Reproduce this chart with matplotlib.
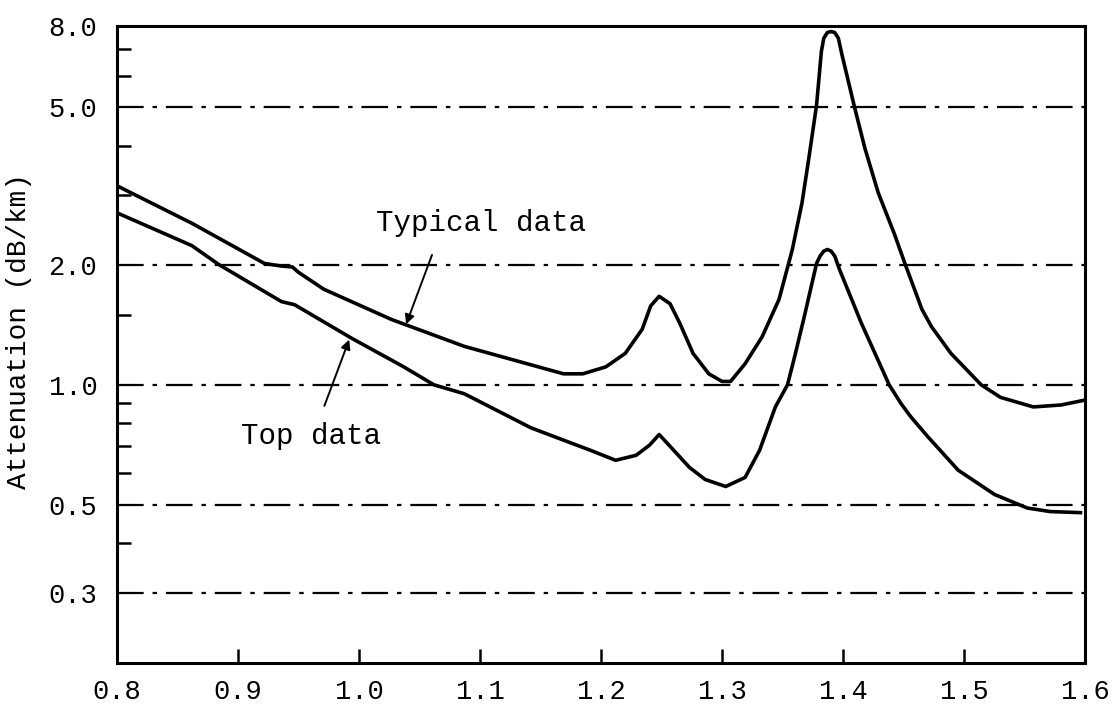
import matplotlib.pyplot as plt
from matplotlib.ticker import FixedLocator, FixedFormatter, NullFormatter

plt.rcParams['font.family'] = ['Liberation Mono', 'DejaVu Sans Mono']

# wavelength (um) and attenuation (dB/km)
typ_x = [0.800, 0.862, 0.922, 0.936, 0.945, 0.950, 0.971, 1.027, 1.087, 1.169,
         1.185, 1.204, 1.220, 1.234, 1.241, 1.248, 1.257, 1.265, 1.276, 1.289,
         1.300, 1.307, 1.319, 1.333, 1.347, 1.358, 1.366, 1.372, 1.378, 1.382,
         1.384, 1.387, 1.390, 1.393, 1.396, 1.399, 1.409, 1.418, 1.429, 1.442,
         1.451, 1.465, 1.473, 1.489, 1.514, 1.530, 1.557, 1.580, 1.600]
typ_y = [3.17, 2.55, 2.02, 1.99, 1.98, 1.92, 1.74, 1.46, 1.25, 1.066,
         1.066, 1.11, 1.20, 1.38, 1.58, 1.67, 1.60, 1.43, 1.20, 1.066,
         1.02, 1.02, 1.13, 1.32, 1.64, 2.19, 2.87, 3.78, 5.05, 6.9,
         7.45, 7.70, 7.74, 7.70, 7.45, 6.77, 5.05, 3.93, 3.04, 2.41,
         2.02, 1.55, 1.40, 1.20, 1.00, 0.93, 0.88, 0.89, 0.916]

top_x = [0.800, 0.862, 0.884, 0.936, 0.947, 0.994, 1.037, 1.062, 1.087, 1.142,
         1.169, 1.191, 1.212, 1.229, 1.240, 1.248, 1.259, 1.273, 1.286, 1.303,
         1.319, 1.331, 1.344, 1.354, 1.360, 1.368, 1.378, 1.381, 1.384, 1.387,
         1.390, 1.393, 1.397, 1.415, 1.438, 1.448, 1.456, 1.470, 1.495, 1.525,
         1.552, 1.571, 1.596]
top_y = [2.71, 2.24, 2.01, 1.62, 1.59, 1.31, 1.11, 1.00, 0.95, 0.78,
         0.726, 0.685, 0.646, 0.665, 0.705, 0.75, 0.69, 0.62, 0.578, 0.555,
         0.585, 0.685, 0.88, 1.00, 1.18, 1.49, 2.02, 2.11, 2.17, 2.19,
         2.17, 2.11, 1.95, 1.43, 1.00, 0.895, 0.83, 0.74, 0.61, 0.53,
         0.49, 0.48, 0.477]

y_major = [0.3, 0.5, 1.0, 2.0, 5.0, 8.0]
y_major_labels = ['0.3', '0.5', '1.0', '2.0', '5.0', '8.0']
y_minor = [0.4, 0.6, 0.7, 0.8, 0.9, 1.5, 3.0, 4.0, 6.0, 7.0]
grid_levels = [0.3, 0.5, 1.0, 2.0, 5.0]
x_ticks = [0.8, 0.9, 1.0, 1.1, 1.2, 1.3, 1.4, 1.5, 1.6]

fig = plt.figure(figsize=(11.12, 7.18), dpi=100)
ax = fig.add_axes([0.105, 0.077, 0.871, 0.887])

ax.plot(typ_x, typ_y, color='black', lw=2.6, solid_joinstyle='round')
ax.plot(top_x, top_y, color='black', lw=2.6, solid_joinstyle='round')

for g in grid_levels:
    ax.axhline(g, color='black', lw=1.6, ls=(0, (12, 4, 2, 4)))

ax.set_yscale('log')
ax.set_xlim(0.8, 1.6)
ax.set_ylim(0.2, 8.0)

ax.yaxis.set_major_locator(FixedLocator(y_major))
ax.yaxis.set_major_formatter(FixedFormatter(y_major_labels))
ax.yaxis.set_minor_locator(FixedLocator(y_minor))
ax.yaxis.set_minor_formatter(NullFormatter())
ax.set_xticks(x_ticks)
ax.set_xticklabels([f'{v:.1f}' for v in x_ticks])

ax.tick_params(axis='both', which='both', direction='in', labelsize=19.5,
               width=1.8, top=False, right=False)
ax.tick_params(axis='y', which='major', length=0, pad=14)
ax.tick_params(axis='y', which='minor', length=10)
ax.tick_params(axis='x', which='major', length=10, pad=12)

for s in ax.spines.values():
    s.set_linewidth(2.2)

ax.set_ylabel('Attenuation (dB/km)', fontsize=20)
ax.yaxis.set_label_coords(-0.088, 0.52)

ax.annotate('Typical data', xy=(1.039, 1.42), xytext=(1.014, 2.56),
            fontsize=21, va='center', ha='left',
            arrowprops=dict(arrowstyle='-|>', color='black', lw=1.4,
                            mutation_scale=14,
                            shrinkA=12, shrinkB=0, relpos=(0.3, 0.0)))
ax.annotate('Top data', xy=(0.992, 1.30), xytext=(0.903, 0.745),
            fontsize=21, va='center', ha='left',
            arrowprops=dict(arrowstyle='-|>', color='black', lw=1.4,
                            mutation_scale=14,
                            shrinkA=10, shrinkB=0, relpos=(0.55, 1.0)))

fig.savefig('out.png', dpi=100)
